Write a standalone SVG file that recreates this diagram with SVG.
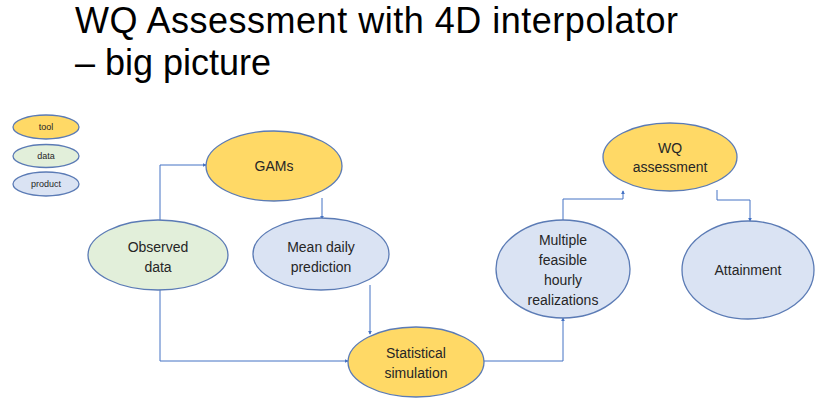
<svg xmlns="http://www.w3.org/2000/svg" width="823" height="400" viewBox="0 0 823 400">
<defs>
<style>
.title{font-family:"Liberation Sans",Arial,sans-serif;font-size:36px;fill:#000}
.lbl{font-family:"Liberation Sans",Arial,sans-serif;font-size:14px;fill:#262626;text-anchor:middle}
.leg{font-family:"Liberation Sans",Arial,sans-serif;font-size:9px;fill:#262626;text-anchor:middle}
.tool{fill:#FFD966;stroke:#5B7BB5;stroke-width:1.3}
.data{fill:#E2EFDA;stroke:#5B7BB5;stroke-width:1.3}
.prod{fill:#DAE3F3;stroke:#5B7BB5;stroke-width:1.3}
.conn{fill:none;stroke:#4472C4;stroke-width:1;marker-end:url(#arr)}
</style>
<marker id="arr" viewBox="0 0 6 6" refX="5" refY="3" markerWidth="4" markerHeight="4" orient="auto">
<path d="M0,0 L6,3 L0,6 z" fill="#4472C4"/>
</marker>
</defs>
<rect width="823" height="400" fill="#fff"/>
<text class="title" x="75" y="33" textLength="603">WQ Assessment with 4D interpolator</text>
<text class="title" x="75" y="75">– big picture</text>

<g id="legend-tool"><ellipse class="tool" cx="46" cy="127" rx="33" ry="12"/><text class="leg" x="46" y="130">tool</text></g>
<g id="legend-data"><ellipse class="data" cx="46" cy="156" rx="33" ry="11.5"/><text class="leg" x="46" y="159">data</text></g>
<g id="legend-product"><ellipse class="prod" cx="46" cy="184" rx="33" ry="12"/><text class="leg" x="46" y="187">product</text></g>

<g id="connectors">
<path class="conn" d="M160,220 V165 H206"/>
<path class="conn" d="M322,198 V219"/>
<path class="conn" d="M370,285 V334"/>
<path class="conn" d="M160,290 V361 H348"/>
<path class="conn" d="M484,361 H563 V318"/>
<path class="conn" d="M563,220 V199 H623 V191"/>
<path class="conn" d="M717,190 V200 H750 V221"/>
</g>

<g id="gams"><ellipse class="tool" cx="274" cy="166" rx="68" ry="35"/><text class="lbl" x="274" y="171">GAMs</text></g>
<g id="observed"><ellipse class="data" cx="158" cy="255" rx="70" ry="35"/><text class="lbl" x="158" y="252">Observed</text><text class="lbl" x="158" y="272">data</text></g>
<g id="mean-daily"><ellipse class="prod" cx="321" cy="254" rx="68" ry="36"/><text class="lbl" x="321" y="252">Mean daily</text><text class="lbl" x="321" y="272">prediction</text></g>
<g id="statistical"><ellipse class="tool" cx="416" cy="362" rx="68" ry="35"/><text class="lbl" x="416" y="358">Statistical</text><text class="lbl" x="416" y="378">simulation</text></g>
<g id="multiple"><ellipse class="prod" cx="563" cy="269" rx="67" ry="49"/><text class="lbl" x="563" y="245">Multiple</text><text class="lbl" x="563" y="265">feasible</text><text class="lbl" x="563" y="285">hourly</text><text class="lbl" x="563" y="305">realizations</text></g>
<g id="wq-assessment"><ellipse class="tool" cx="670" cy="157" rx="67" ry="34"/><text class="lbl" x="670" y="153">WQ</text><text class="lbl" x="670" y="172">assessment</text></g>
<g id="attainment"><ellipse class="prod" cx="748" cy="270" rx="66" ry="49"/><text class="lbl" x="748" y="275">Attainment</text></g>
</svg>
